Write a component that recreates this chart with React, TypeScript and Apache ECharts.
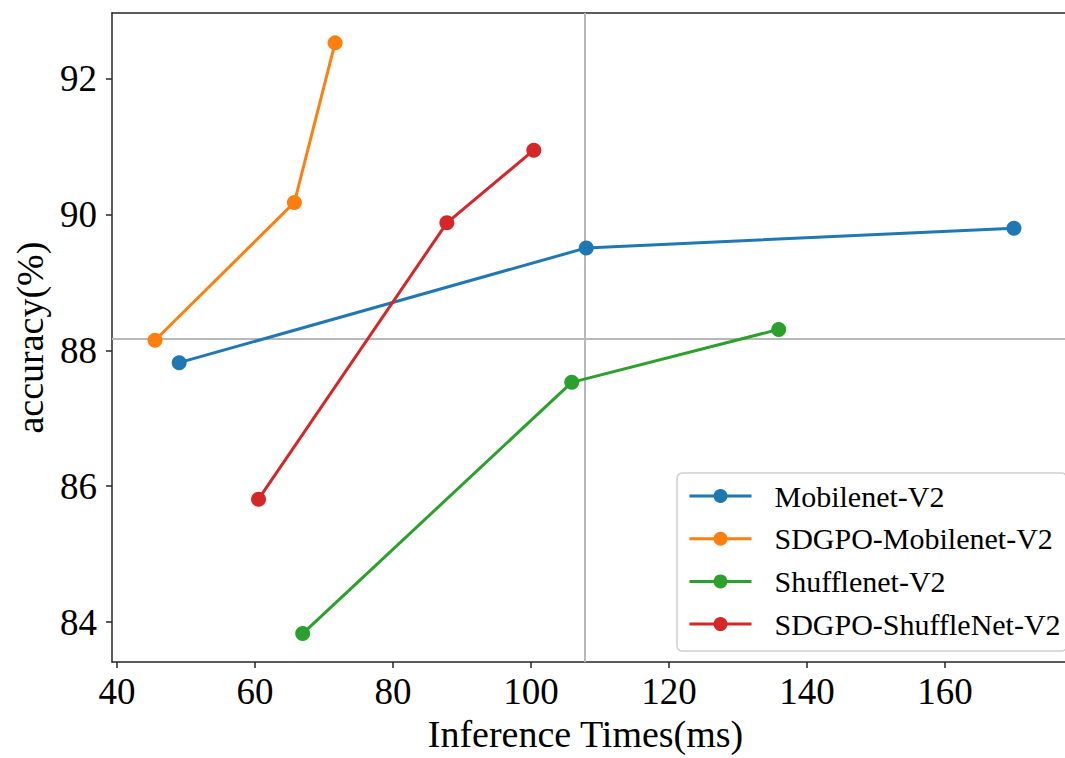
import React, { useEffect, useRef } from "react";
import * as echarts from "echarts";

const seriesNames = ["Mobilenet-V2", "SDGPO-Mobilenet-V2", "Shufflenet-V2", "SDGPO-ShuffleNet-V2"];
const seriesColors = ["#1f77b4", "#ff7f0e", "#2ca02c", "#d62728"];

const mobilenetX = [49, 108, 170];
const mobilenetY = [87.82, 89.51, 89.8];
const sdgpoMobilenetX = [45.5, 65.7, 71.6];
const sdgpoMobilenetY = [88.15, 90.18, 92.53];
const shufflenetX = [66.9, 105.9, 135.9];
const shufflenetY = [83.83, 87.53, 88.31];
const sdgpoShufflenetX = [60.5, 87.8, 100.4];
const sdgpoShufflenetY = [85.81, 89.88, 90.95];

const refLineX = 107.8;
const refLineY = 88.17;

const xTicks = [40, 60, 80, 100, 120, 140, 160];
const yTicks = [84, 86, 88, 90, 92];

const FONT = "'Liberation Serif', 'Times New Roman', serif";

function pairs(xs: number[], ys: number[]) {
  return xs.map((x, i) => [x, ys[i]]);
}

export default function App() {
  const ref = useRef<HTMLDivElement>(null);
  useEffect(() => {
    if (!ref.current) return;
    const chart = echarts.init(ref.current, null, { renderer: "svg" });
    const allData = [
      pairs(mobilenetX, mobilenetY),
      pairs(sdgpoMobilenetX, sdgpoMobilenetY),
      pairs(shufflenetX, shufflenetY),
      pairs(sdgpoShufflenetX, sdgpoShufflenetY),
    ];
    const series: any[] = allData.map((d, i) => ({
      name: seriesNames[i],
      type: "line",
      data: d,
      symbol: "circle",
      symbolSize: 15,
      showSymbol: true,
      color: seriesColors[i],
      lineStyle: { width: 3, color: seriesColors[i] },
      itemStyle: { color: seriesColors[i] },
      emphasis: { disabled: true },
      z: 3,
    }));
    series[0].markLine = {
      silent: true,
      z: 1,
      symbol: ["none", "none"],
      label: { show: false },
      emphasis: { disabled: true },
      lineStyle: { color: "#b8b8b8", width: 2, type: "solid" },
      data: [{ xAxis: refLineX }, { yAxis: refLineY }],
    };
    const axisLineStyle = { color: "#262626", width: 1.5 };
    chart.setOption({
      animation: false,
      grid: { left: 112, right: 0, top: 13, bottom: 92 },
      xAxis: [
        {
          type: "value",
          min: 39.26,
          max: 177.4,
          position: "bottom",
          name: "Inference Times(ms)",
          nameLocation: "middle",
          nameGap: 52,
          nameTextStyle: { fontFamily: FONT, fontSize: 38, color: "#000", padding: [0, 6, 0, 0] },
          axisLine: { show: true, lineStyle: axisLineStyle },
          axisTick: { show: true, length: 6, lineStyle: axisLineStyle, customValues: xTicks },
          axisLabel: { fontFamily: FONT, fontSize: 37, color: "#000", margin: 11, customValues: xTicks },
          splitLine: { show: false },
        },
        {
          type: "value",
          min: 39.26,
          max: 177.4,
          position: "top",
          axisLine: { show: true, lineStyle: axisLineStyle },
          axisTick: { show: false },
          axisLabel: { show: false },
          splitLine: { show: false },
        },
      ],
      yAxis: {
        type: "value",
        min: 83.41,
        max: 92.97,
        name: "accuracy(%)",
        nameLocation: "middle",
        nameGap: 63,
        nameTextStyle: { fontFamily: FONT, fontSize: 38, color: "#000" },
        axisLine: { show: true, lineStyle: axisLineStyle },
        axisTick: { show: true, length: 6, lineStyle: axisLineStyle, customValues: yTicks },
        axisLabel: { fontFamily: FONT, fontSize: 37, color: "#000", margin: 15, customValues: yTicks },
        splitLine: { show: false },
      },
      legend: {
        data: seriesNames,
        orient: "vertical",
        left: 677,
        top: 473,
        padding: [8, 6, 12, 11],
        itemWidth: 62,
        itemHeight: 17.5,
        itemGap: 12.7,
        backgroundColor: "#fff",
        borderColor: "#d0d0d0",
        borderWidth: 1.5,
        borderRadius: 5,
        lineStyle: { width: 3 },
        textStyle: { fontFamily: FONT, fontSize: 30, color: "#000", lineHeight: 30, padding: [0, 0, 0, 18] },
        selectedMode: false,
      },
      series,
    });
    return () => chart.dispose();
  }, []);
  return (
    <div
      ref={ref}
      style={{ position: "absolute", left: 0, top: 0, width: 1065, height: 758, background: "#fff" }}
    />
  );
}
